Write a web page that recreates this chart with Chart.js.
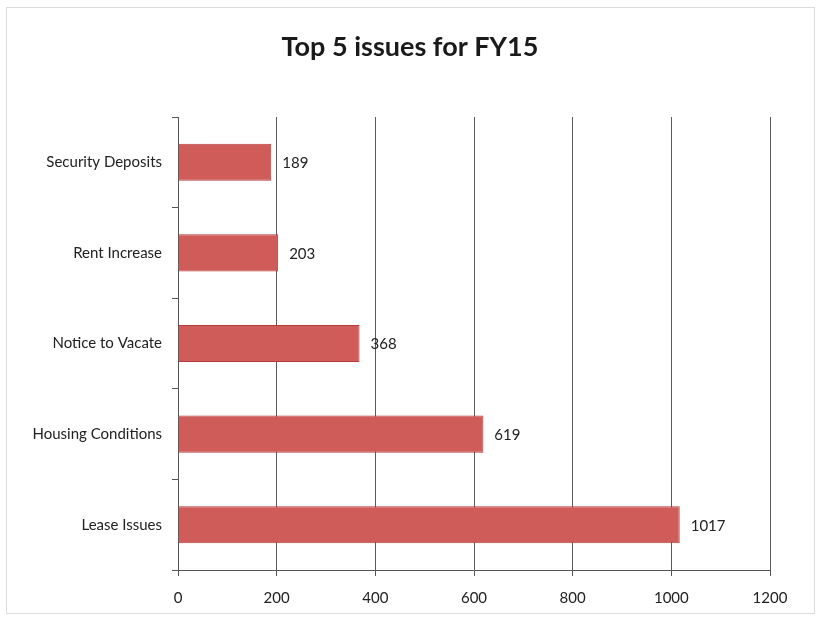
<!DOCTYPE html>
<html>
<head>
<meta charset="utf-8">
<script src="https://cdn.jsdelivr.net/npm/chart.js@4"></script>
<style>
  html, body { margin: 0; padding: 0; background: #fff; }
  #wrap { width: 816px; height: 621px; }
</style>
</head>
<body>
<div id="wrap"><canvas id="c" width="816" height="621"></canvas></div>
<script>
const categories = ["Security Deposits", "Rent Increase", "Notice to Vacate", "Housing Conditions", "Lease Issues"];
const issueCounts = [189, 203, 368, 619, 1017];
const xTicks = [0, 200, 400, 600, 800, 1000, 1200];
const chartTitle = "Top 5 issues for FY15";

const FONT = "Lato, 'Open Sans', sans-serif";

const valueLabels = {
  id: 'valueLabels',
  afterDatasetsDraw(chart) {
    const ctx = chart.ctx;
    const meta = chart.getDatasetMeta(0);
    ctx.save();
    ctx.font = "15px " + FONT;
    ctx.fillStyle = "#222";
    ctx.textAlign = "left";
    ctx.textBaseline = "middle";
    meta.data.forEach((bar, i) => {
      ctx.fillText(String(issueCounts[i]), bar.x + 11, bar.y + 1);
    });
    ctx.restore();
  }
};

const bgAndTitle = {
  id: 'bgAndTitle',
  beforeDraw(chart) {
    const ctx = chart.ctx;
    ctx.save();
    ctx.fillStyle = "#fff";
    ctx.fillRect(0, 0, chart.width, chart.height);
    ctx.strokeStyle = "#dcdcdc";
    ctx.lineWidth = 1;
    ctx.strokeRect(6.5, 7.5, 808, 606);
    ctx.fillStyle = "#1a1a1a";
    ctx.font = "bold 27px " + FONT;
    ctx.textAlign = "center";
    ctx.textBaseline = "middle";
    ctx.fillText(chartTitle, 410, 47);
    ctx.restore();
  }
};

new Chart(document.getElementById('c'), {
  type: 'bar',
  data: {
    labels: categories,
    datasets: [{
      data: issueCounts,
      backgroundColor: "#d05c5a",
      borderColor: "#b53d3b",
      borderWidth: 1,
      barPercentage: 0.41,
      categoryPercentage: 1.0
    }]
  },
  options: {
    indexAxis: 'y',
    responsive: false,
    animation: false,
    layout: { padding: { left: 0, right: 46, top: 117, bottom: 0 } },
    plugins: {
      legend: { display: false },
      tooltip: { enabled: false },
      title: { display: false }
    },
    scales: {
      x: {
        min: 0,
        max: 1200,
        afterBuildTicks(scale) { scale.ticks = xTicks.map(v => ({ value: v })); },
        afterFit(scale) { scale.height = 51; },
        border: { display: true, color: "#555", width: 1 },
        grid: { color: "#5a5a5a", lineWidth: 1, drawTicks: true, tickLength: 6, tickColor: "#555" },
        ticks: {
          color: "#222",
          font: { family: FONT, size: 15 },
          padding: 13,
          callback: (v) => String(v)
        }
      },
      y: {
        afterFit(scale) { scale.width = 178; },
        border: { display: true, color: "#555", width: 1 },
        grid: { offset: true, drawOnChartArea: false, drawTicks: true, tickLength: 6, tickColor: "#555" },
        ticks: { color: "#222", font: { family: FONT, size: 15 }, padding: 10 }
      }
    }
  },
  plugins: [bgAndTitle, valueLabels]
});
</script>
</body>
</html>
